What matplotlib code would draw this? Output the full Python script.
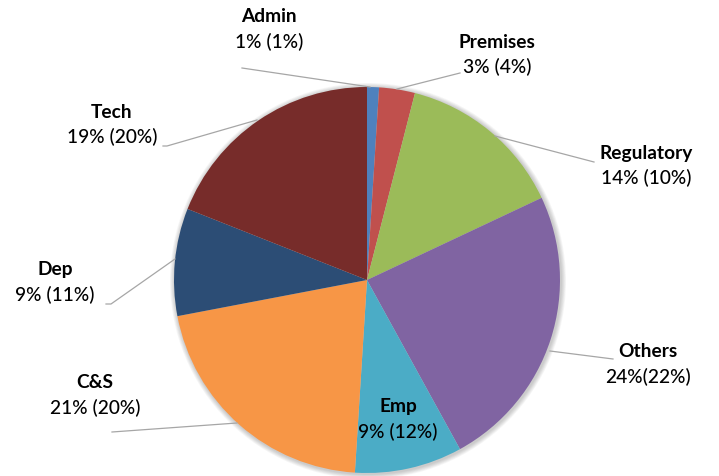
import matplotlib
matplotlib.use("Agg")
import matplotlib.pyplot as plt
from matplotlib.patches import Circle

categories = ["Admin", "Premises", "Regulatory", "Others", "Emp", "C&S", "Dep", "Tech"]
shares = [1, 3, 14, 24, 9, 21, 9, 19]
prior_shares = [1, 4, 10, 22, 12, 20, 11, 20]
colors = ["#4F81BD", "#C0504D", "#9BBB59", "#8064A2", "#4BACC6", "#F79646", "#2C4D75", "#772C2A"]

W, H = 719, 477
fig = plt.figure(figsize=(W / 100, H / 100), dpi=100)
ax = fig.add_axes([0, 0, 1, 1])

plt.rcParams["font.family"] = ["Lato", "DejaVu Sans"]


def Y(y):
    return H - y


cx, cy, r = 367, Y(281), 193

# soft shadow behind the pie
for i in range(6):
    ax.add_patch(Circle((cx + 1, cy - 1), r + 1 + i * 0.8, color="black",
                        alpha=0.035, lw=0, zorder=0))

wedges, _ = ax.pie(shares, colors=colors, startangle=90, counterclock=False,
                   center=(cx, cy), radius=r, frame=True,
                   wedgeprops=dict(linewidth=0))
ax.set_xlim(0, W)
ax.set_ylim(0, H)
ax.set_aspect("equal")
ax.axis("off")

# label anchor (name centre) and leader lines
label_pos = {
    "Admin": (269, 17),
    "Premises": (497, 42),
    "Regulatory": (646, 153),
    "Others": (648, 352),
    "Emp": (398, 407),
    "C&S": (95, 383),
    "Dep": (55, 270),
    "Tech": (112, 112),
}
leaders = {
    "Admin": [(242, 69), (370, 88)],
    "Premises": [(397, 90), (460, 74)],
    "Regulatory": [(495, 137), (594, 163)],
    "Others": [(550, 352), (613, 360)],
    "C&S": [(112, 433), (237, 424)],
    "Dep": [(106, 305), (111, 305), (175, 260)],
    "Tech": [(163, 147), (167, 147), (257, 121)],
}

for name, pts in leaders.items():
    xs = [p[0] for p in pts]
    ys = [Y(p[1]) for p in pts]
    ax.plot(xs, ys, color="#A6A6A6", lw=0.9, zorder=3)

for name, s, p in zip(categories, shares, prior_shares):
    x, y = label_pos[name]
    sep = "" if name == "Others" else " "
    ax.text(x, Y(y), name, ha="center", va="center", fontsize=13.8,
            fontweight="bold", color="black", zorder=4)
    ax.text(x, Y(y + 25), f"{s}%{sep}({p}%)", ha="center", va="center",
            fontsize=13.8, fontweight="medium", color="black", zorder=4)

fig.savefig("out.png", dpi=100)
